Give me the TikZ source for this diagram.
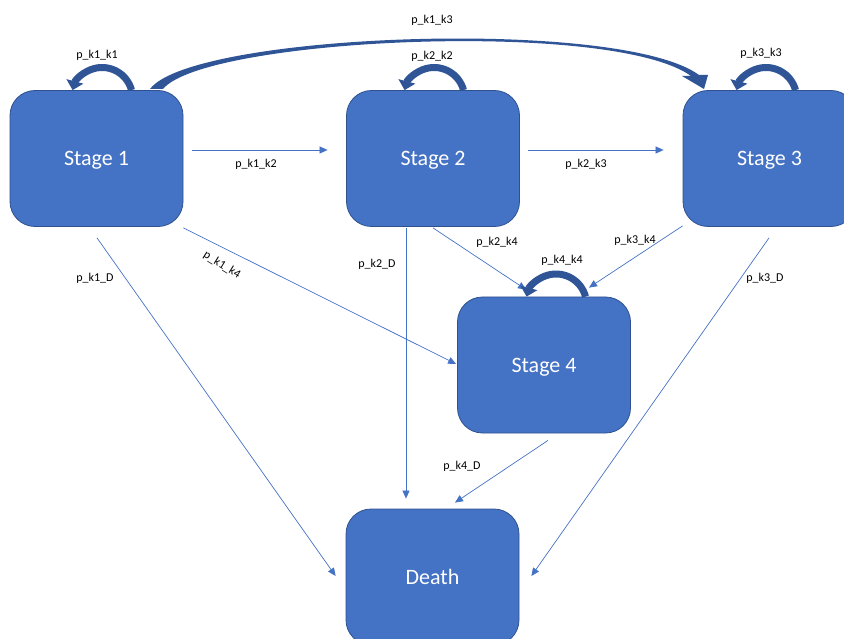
\documentclass[tikz,border=0pt]{standalone}
\usepackage{fontspec}
\setmainfont{Carlito}
\usetikzlibrary{arrows.meta}
\definecolor{boxblue}{HTML}{4472C4}
\definecolor{boxedge}{HTML}{2F528F}
\definecolor{loopblue}{HTML}{2F5597}
\definecolor{lineblue}{HTML}{4472C4}
\tikzset{
  stagebox/.style={rectangle, rounded corners=25pt, fill=boxblue, draw=boxedge, line width=0.8pt,
    minimum width=173pt, minimum height=136pt, inner sep=0pt, text=white,
    text height=15pt, text depth=0pt,
    font=\fontsize{22}{26}\selectfont},
  conn/.style={draw=lineblue, line width=0.7pt, -{Triangle[length=8pt,width=7pt]}},
  lbl/.style={font=\fontsize{12}{14}\selectfont, text=black, inner sep=0pt},
  selfloop/.style={draw=loopblue, line width=7pt, -{Triangle[length=9pt,width=17pt]}},
}
\begin{document}
\begin{tikzpicture}[x=1pt,y=-1pt]
\useasboundingbox (0,0) rectangle (844,639);
\clip (0,0) rectangle (844,639);
% boxes
\node[stagebox] (s1) at (96.5,158.5) {Stage 1};
\node[stagebox] (s2) at (433,158.5) {Stage 2};
\node[stagebox] (s3) at (769.5,158.5) {Stage 3};
\node[stagebox] (s4) at (544,365) {Stage 4};
\node[stagebox] (death) at (432.5,577) {Death};
% thin connectors
\draw[conn] ([shift={(9,-8.5)}]s1.east) -- ([shift={(-18.5,-8.5)}]s2.west);
\draw[conn] ([shift={(8.5,-8.5)}]s2.east) -- ([shift={(-19,-8.5)}]s3.west);
\draw[conn] ([shift={(0,1)}]s1.south east) -- ([shift={(-1,-1)}]s4.west);
\draw[conn] ([shift={(0.5,11)}]s1.south) -- ([shift={(-10,-1)}]death.west);
\draw[conn] ([shift={(-27,1)}]s2.south) -- ([shift={(-26.5,-10)}]death.north);
\draw[conn] ([shift={(0,1)}]s2.south) -- ([shift={(-18,-7)}]s4.north);
\draw[conn] ([shift={(0,-1)}]s3.south west) -- ([shift={(45,-9)}]s4.north);
\draw[conn] ([shift={(-0.5,11)}]s3.south) -- ([shift={(12,-1)}]death.east);
\draw[conn] ([shift={(4,7)}]s4.south) -- ([shift={(22.5,-6)}]death.north);
% self loops
\draw[selfloop] ([shift={(35,0)}]s1.north) arc (-15:-165:30.5);
\draw[selfloop] ([shift={(30.5,0)}]s2.north) arc (-15:-165:30.5);
\draw[selfloop] ([shift={(26,0)}]s3.north) arc (-15:-165:30.5);
\draw[selfloop] ([shift={(41.5,0)}]s4.north) arc (-15:-165:30.5);
% big curved arrow stage 1 -> stage 3
\fill[loopblue] (150,89) .. controls (192,33) and (620,17) .. (699,75) -- (708,75) -- (704,89)
  -- (682,76) -- (691,76) .. controls (612,19) and (205,38) .. (163,89) -- cycle;
% labels
\node[lbl] (l12) at (256,164) {p\_k1\_k2};
\node[lbl] (l23) at (586,164) {p\_k2\_k3};
\node[lbl, rotate=-32] (l14) at (222,265) {p\_k1\_k4};
\node[lbl] (l1d) at (95,278) {p\_k1\_D};
\node[lbl] (l2d) at (377,264) {p\_k2\_D};
\node[lbl] (l24) at (497,242) {p\_k2\_k4};
\node[lbl] (l34) at (635,240) {p\_k3\_k4};
\node[lbl] (l3d) at (765,278) {p\_k3\_D};
\node[lbl] (l4d) at (462,466) {p\_k4\_D};
\node[lbl] (l11) at (97,55) {p\_k1\_k1};
\node[lbl] (l22) at (432,56) {p\_k2\_k2};
\node[lbl] (l33) at (761,53) {p\_k3\_k3};
\node[lbl] (l44) at (562,260) {p\_k4\_k4};
\node[lbl] (l13) at (432,20) {p\_k1\_k3};
\end{tikzpicture}
\end{document}
